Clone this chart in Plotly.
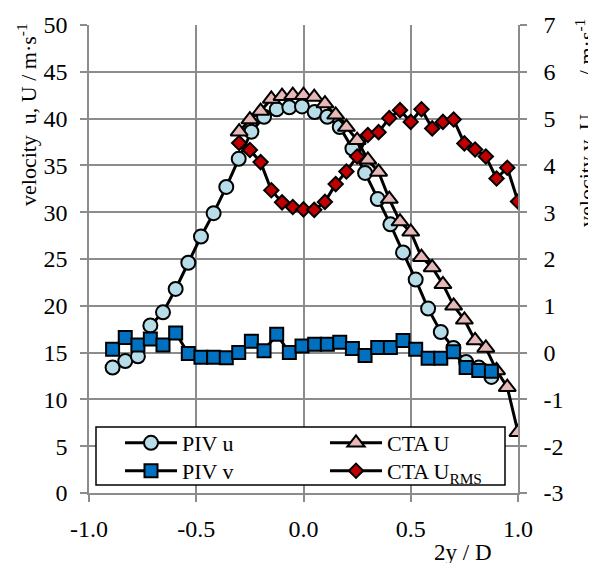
import plotly.graph_objects as go

# ---- data ----
x_piv = [-0.890, -0.831, -0.772, -0.714, -0.655, -0.596, -0.537, -0.478, -0.419, -0.360,
         -0.302, -0.243, -0.184, -0.125, -0.066, -0.007, 0.052, 0.111, 0.169, 0.228,
         0.287, 0.346, 0.405, 0.464, 0.523, 0.581, 0.640, 0.699, 0.758, 0.817, 0.876]
piv_u = [13.4, 14.1, 14.6, 17.9, 19.3, 21.8, 24.6, 27.4, 29.9, 32.7,
         35.7, 38.6, 40.2, 41.0, 41.2, 41.3, 40.7, 40.2, 39.1, 36.8,
         34.2, 31.4, 28.7, 25.7, 22.8, 19.7, 17.2, 15.5, 14.0, 13.4, 12.4]
piv_v = [0.07, 0.32, 0.16, 0.29, 0.16, 0.42, -0.02, -0.10, -0.10, -0.11,
         0.00, 0.24, 0.04, 0.39, 0.00, 0.14, 0.18, 0.18, 0.22, 0.09,
         -0.06, 0.11, 0.11, 0.26, 0.07, -0.12, -0.12, 0.02, -0.32, -0.38, -0.40]

x_cta = [-0.30, -0.25, -0.20, -0.15, -0.10, -0.05, 0.00, 0.05, 0.10, 0.15,
         0.20, 0.25, 0.30, 0.35, 0.40, 0.45, 0.50, 0.55, 0.60, 0.65,
         0.70, 0.75, 0.80, 0.85, 0.90, 0.95, 1.00]
cta_U = [38.6, 39.9, 40.8, 42.1, 42.4, 42.5, 42.5, 42.3, 41.6, 40.4,
         39.1, 37.7, 35.6, 34.3, 31.4, 29.0, 27.9, 25.2, 24.1, 22.3,
         20.0, 18.5, 16.3, 15.5, 13.1, 11.3, 6.5]
cta_rms = [4.48, 4.33, 4.07, 3.47, 3.21, 3.11, 3.06, 3.05, 3.22, 3.60,
           3.87, 4.19, 4.65, 4.71, 5.01, 5.18, 4.93, 5.20, 4.79, 4.93,
           4.98, 4.47, 4.34, 4.19, 3.72, 3.95, 3.23]

x_tickvals = [-1.0, -0.5, 0.0, 0.5, 1.0]
x_ticktext = ["-1.0", "-0.5", "0.0", "0.5", "1.0"]
y_tickvals = [0, 5, 10, 15, 20, 25, 30, 35, 40, 45, 50]
y2_tickvals = [-3, -2, -1, 0, 1, 2, 3, 4, 5, 6, 7]
y2_ticktext = ["-3", "-2", "-1", "0", "1", "2", "3", "4", "5", "6", "7"]

FONT = "Liberation Serif, Times New Roman, serif"
GRID = "#8c8c8c"
LINE = dict(color="black", width=3)
MLINE = dict(color="black", width=2)

fig = go.Figure()
fig.add_trace(go.Scatter(x=x_piv, y=piv_u, name="PIV u", mode="lines+markers",
                         line=LINE, marker=dict(symbol="circle", size=14, color="#b7dde8", line=MLINE),
                         yaxis="y", legend="legend"))
fig.add_trace(go.Scatter(x=x_cta, y=cta_U, name="CTA U", mode="lines+markers",
                         line=LINE, marker=dict(symbol="triangle-up", size=15, color="#e6b9b8", line=MLINE),
                         yaxis="y", legend="legend2"))
fig.add_trace(go.Scatter(x=x_piv, y=piv_v, name="PIV v", mode="lines+markers",
                         line=LINE, marker=dict(symbol="square", size=13, color="#0070c0", line=MLINE),
                         yaxis="y2", legend="legend3"))
fig.add_trace(go.Scatter(x=x_cta, y=cta_rms, name="CTA U<sub>RMS</sub>", mode="lines+markers",
                         line=LINE, marker=dict(symbol="diamond", size=11, color="#c00000", line=MLINE),
                         yaxis="y2", legend="legend4"))

# page has an 8px body margin, so figure is offset by 8px
OFF = 8
PW, PH = 596, 563
PL, PR, PT, PB = 89, 518, 25, 493   # plot area in page pixels
W, H = PW - OFF, PH - OFF

def px(xp):
    return (xp - PL) / (PR - PL)

def py(yp):
    return (PB - yp) / (PB - PT)

axis_common = dict(showline=True, linecolor=GRID, linewidth=1.5,
                   ticks="outside", ticklen=7, tickcolor=GRID, tickwidth=1.5,
                   zeroline=False, tickfont=dict(family=FONT, size=24, color="black"))

def leg(xp, yp):
    return dict(x=px(xp), xanchor="left", y=py(yp), yanchor="middle",
                bgcolor="rgba(0,0,0,0)", borderwidth=0, itemwidth=52,
                font=dict(family=FONT, size=22, color="black"))

fig.update_layout(
    width=W, height=H,
    margin=dict(l=PL - OFF, r=PW - PR, t=PT - OFF, b=PH - PB, autoexpand=False),
    paper_bgcolor="white", plot_bgcolor="white",
    font=dict(family=FONT, size=22, color="black"),
    showlegend=True,
    xaxis=dict(range=[-1, 1], tickvals=x_tickvals, ticktext=x_ticktext,
               showgrid=True, gridcolor=GRID, gridwidth=1.5, ticklabelstandoff=6, **axis_common),
    yaxis=dict(range=[0, 50], tickvals=y_tickvals,
               showgrid=True, gridcolor=GRID, gridwidth=1.5, ticklabelstandoff=8, **axis_common),
    yaxis2=dict(range=[-3, 7], tickvals=y2_tickvals, ticktext=y2_ticktext,
                overlaying="y", side="right", showgrid=False, ticklabelstandoff=12, **axis_common),
    legend=leg(120, 443),
    legend2=leg(325, 443),
    legend3=leg(120, 471),
    legend4=leg(325, 471),
    shapes=[dict(type="rect", xref="paper", yref="paper",
                 x0=px(96), x1=px(505), y0=py(485), y1=py(427),
                 line=dict(color="black", width=1.5), fillcolor="white", layer="above")],
    annotations=[
        dict(text="velocity\u00a0\u00a0u, U / m·s<sup>-1</sup>", xref="paper", yref="paper",
             x=px(27), y=py(115), xanchor="center", yanchor="middle",
             textangle=-90, showarrow=False, font=dict(family=FONT, size=22)),
        dict(text="velocity v, U<sub>RMS</sub> / m·s<sup>-1</sup>", xref="paper", yref="paper",
             x=px(586), y=py(123), xanchor="center", yanchor="middle",
             textangle=-90, showarrow=False, font=dict(family=FONT, size=22)),
        dict(text="2y / D", xref="paper", yref="paper",
             x=px(463), y=py(538), xanchor="center", yanchor="top",
             showarrow=False, font=dict(family=FONT, size=23)),
    ],
)

fig.write_html("out.html")
